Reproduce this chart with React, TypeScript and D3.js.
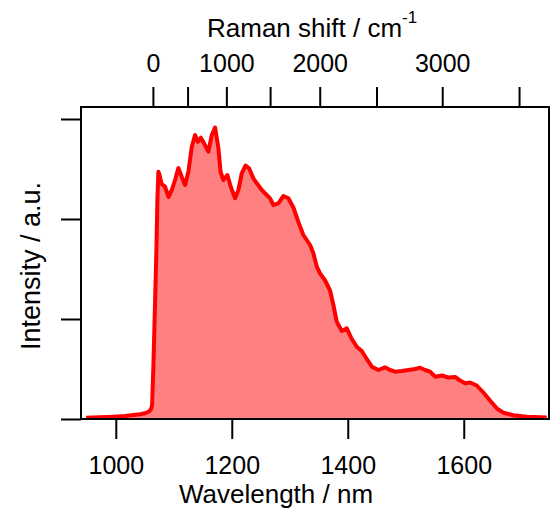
import React, { useEffect, useRef } from 'react';
import * as d3 from 'd3';

// spectrum: wavelength (nm) and intensity (a.u.)
const wavelength = [
  948.8, 972.9, 995.3, 1016.0, 1030.3, 1041.9, 1050.5, 1057.4, 1060.9, 1062.6,
  1064.8, 1067.8, 1070.0, 1071.7, 1073.4, 1075.5, 1079.0, 1085.0, 1090.7, 1096.6,
  1102.2, 1107.9, 1113.8, 1119.5, 1125.2, 1131.0, 1136.7, 1141.4, 1146.6, 1152.2,
  1159.7, 1165.5, 1171.2, 1176.9, 1180.7, 1185.5, 1192.4, 1198.3, 1205.7, 1211.4,
  1217.2, 1223.8, 1229.8, 1237.2, 1243.1, 1251.7, 1260.3, 1266.0, 1271.7, 1280.3,
  1289.0, 1297.6, 1306.2, 1314.8, 1323.4, 1335.0, 1340.7, 1346.6, 1352.2, 1360.9,
  1369.5, 1375.2, 1381.0, 1389.7, 1398.3, 1406.9, 1415.5, 1424.1, 1432.8, 1441.4,
  1452.8, 1464.3, 1472.9, 1481.6, 1493.1, 1504.5, 1516.0, 1524.7, 1533.3, 1541.9,
  1550.5, 1562.1, 1573.4, 1585.0, 1593.6, 1602.2, 1610.9, 1622.4, 1633.8, 1645.3,
  1656.9, 1668.3, 1685.5, 1708.6, 1743.1,
];
const intensity = [
  0.013, 0.017, 0.023, 0.03, 0.04, 0.047, 0.057, 0.075, 0.1, 0.14,
  0.523, 1.19, 1.69, 2.19, 2.473, 2.44, 2.35, 2.323, 2.22, 2.29,
  2.39, 2.51, 2.42, 2.34, 2.473, 2.72, 2.84, 2.773, 2.813, 2.757,
  2.673, 2.84, 2.915, 2.71, 2.47, 2.39, 2.44, 2.32, 2.207, 2.29,
  2.457, 2.535, 2.507, 2.407, 2.357, 2.29, 2.24, 2.207, 2.14, 2.157,
  2.23, 2.207, 2.115, 1.97, 1.84, 1.74, 1.657, 1.523, 1.457, 1.385,
  1.285, 1.14, 0.973, 0.88, 0.907, 0.8, 0.723, 0.68, 0.6, 0.523,
  0.49, 0.517, 0.49, 0.473, 0.48, 0.49, 0.5, 0.513, 0.49, 0.473,
  0.423, 0.435, 0.415, 0.42, 0.385, 0.357, 0.365, 0.335, 0.265, 0.185,
  0.107, 0.063, 0.038, 0.023, 0.015,
];

const wavelengthTicks = [1000, 1200, 1400, 1600];
const ramanTicks = [0, 500, 1000, 1500, 2000, 2500, 3000, 3500];
const ramanLabels = [0, 1000, 2000, 3000];
const intensityTicks = [0, 1, 2, 3];
const excitation = 1064; // nm

const width = 552;
const height = 510;
const left = 81;
const right = 549;
const top = 107;
const bottom = 419;
const font = '"Liberation Sans", Arial, sans-serif';

const shiftToWavelength = (s: number) => 1e7 / (1e7 / excitation - s);

const App = () => {
  const ref = useRef<SVGSVGElement>(null);

  useEffect(() => {
    const svg = d3.select(ref.current);
    svg.selectAll('*').remove();

    const x = d3.scaleLinear().domain([940, 1747]).range([left, right]);
    const y = d3.scaleLinear().domain([0, 3.12]).range([bottom, top]);
    const data = wavelength.map((w, i) => [w, intensity[i]] as [number, number]);

    svg
      .append('path')
      .datum(data)
      .attr('fill', '#ff8080')
      .attr(
        'd',
        d3
          .area<[number, number]>()
          .x((d) => x(d[0]))
          .y0(y(0))
          .y1((d) => y(d[1]))
      );

    svg
      .append('path')
      .datum(data)
      .attr('fill', 'none')
      .attr('stroke', '#ff0000')
      .attr('stroke-width', 4)
      .attr('stroke-linejoin', 'round')
      .attr(
        'd',
        d3
          .line<[number, number]>()
          .x((d) => x(d[0]))
          .y((d) => y(d[1]))
      );

    // bottom axis
    const gb = svg
      .append('g')
      .attr('transform', `translate(0,${bottom})`)
      .call(d3.axisBottom(x).tickValues(wavelengthTicks).tickSize(20).tickFormat(d3.format('d')));
    gb.selectAll('text').attr('y', 55).attr('dy', 0);

    // top axis (Raman shift)
    const gt = svg
      .append('g')
      .attr('transform', `translate(0,${top})`)
      .call(
        d3
          .axisTop(x)
          .tickValues(ramanTicks.map(shiftToWavelength))
          .tickSize(20)
          .tickFormat((d, i) => (ramanLabels.includes(ramanTicks[i]) ? String(ramanTicks[i]) : ''))
      );
    gt.selectAll('text').attr('y', -35).attr('dy', 0);

    // left axis
    svg
      .append('g')
      .attr('transform', `translate(${left},0)`)
      .call(d3.axisLeft(y).tickValues(intensityTicks).tickSize(20).tickFormat(() => ''));

    svg.selectAll('.domain').remove();
    svg.selectAll('.tick line').attr('stroke', '#000').attr('stroke-width', 2);
    svg
      .selectAll('.tick text')
      .attr('fill', '#000')
      .attr('font-size', 25)
      .attr('font-family', font);

    svg
      .append('rect')
      .attr('x', left)
      .attr('y', top)
      .attr('width', right - left)
      .attr('height', bottom - top)
      .attr('fill', 'none')
      .attr('stroke', '#000')
      .attr('stroke-width', 2);

    svg
      .append('text')
      .attr('x', 276)
      .attr('y', 503)
      .attr('text-anchor', 'middle')
      .attr('font-size', 26)
      .attr('font-family', font)
      .text('Wavelength / nm');

    const tt = svg
      .append('text')
      .attr('x', 207)
      .attr('y', 37)
      .attr('font-size', 26)
      .attr('font-family', font);
    tt.append('tspan').text('Raman shift / cm');
    tt.append('tspan').attr('font-size', 17).attr('dy', -14).text('-1');

    svg
      .append('text')
      .attr('transform', 'rotate(-90)')
      .attr('x', -266)
      .attr('y', 40)
      .attr('text-anchor', 'middle')
      .attr('font-size', 27)
      .attr('font-family', font)
      .text('Intensity / a.u.');
  }, []);

  return (
    <svg
      ref={ref}
      width={width}
      height={height}
      style={{ position: 'absolute', left: 0, top: 0, background: '#fff' }}
    />
  );
};

export default App;
